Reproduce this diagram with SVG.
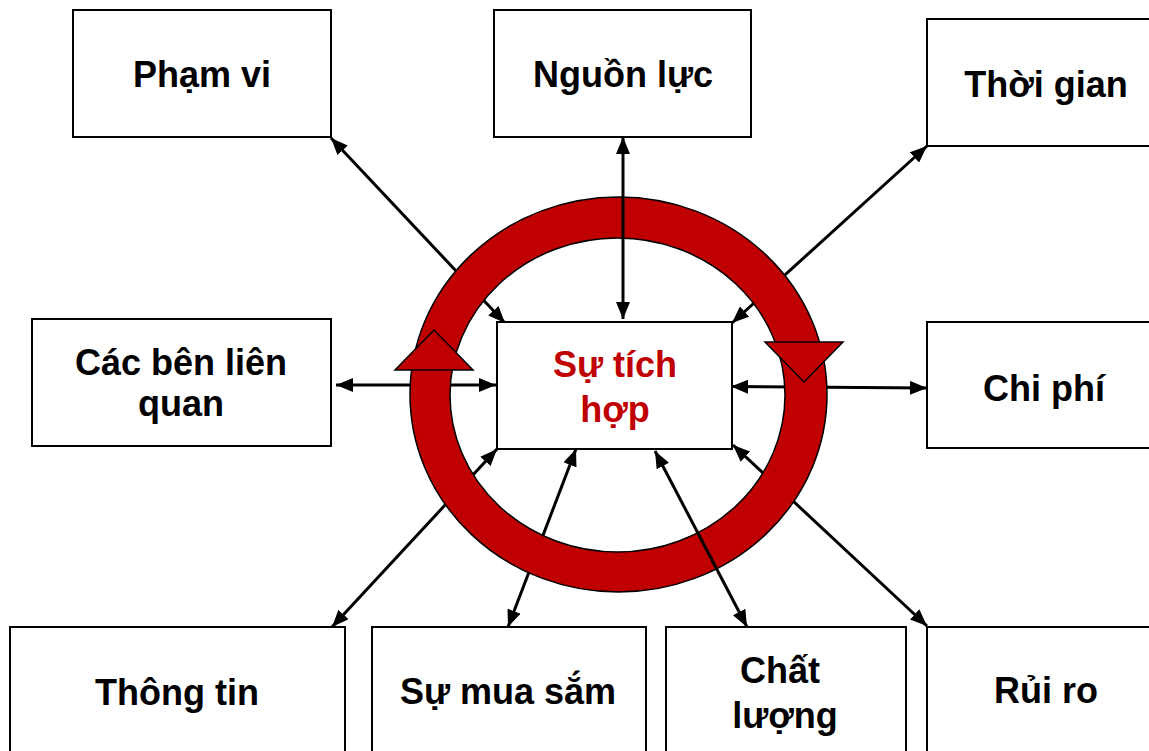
<svg xmlns="http://www.w3.org/2000/svg" width="1149" height="751" viewBox="0 0 1149 751">
<defs>
<style>
.box{fill:#fff;stroke:#000;stroke-width:2}
.lbl{font-family:"Liberation Sans",Arial,sans-serif;font-weight:bold;font-size:36px;fill:#000;text-anchor:middle}
.red{fill:#C00000}
.conn{stroke:#000;stroke-width:3;fill:none;marker-start:url(#ah);marker-end:url(#ah)}
.ring{fill:#C00000;stroke:#000;stroke-width:1.5}
</style>
<marker id="ah" markerUnits="userSpaceOnUse" markerWidth="18" markerHeight="14" viewBox="0 0 18 14" refX="17" refY="7" orient="auto-start-reverse">
<path d="M0,0 L17,7 L0,14 z" fill="#000"/>
</marker>
</defs>
<rect width="1149" height="751" fill="#fff"/>

<g id="node-pham-vi"><rect class="box" x="73" y="10" width="258" height="127"/><text class="lbl" x="202" y="87">Phạm vi</text></g>
<g id="node-nguon-luc"><rect class="box" x="494" y="10" width="257" height="127"/><text class="lbl" x="623" y="87">Nguồn lực</text></g>
<g id="node-thoi-gian"><rect class="box" x="927" y="19" width="240" height="127"/><text class="lbl" x="1046" y="97">Thời gian</text></g>
<g id="node-cac-ben"><rect class="box" x="32" y="319" width="299" height="127"/><text class="lbl" x="181" y="375">Các bên liên</text><text class="lbl" x="181" y="416">quan</text></g>
<g id="node-chi-phi"><rect class="box" x="927" y="322" width="240" height="126"/><text class="lbl" x="1044" y="401">Chi phí</text></g>
<g id="node-thong-tin"><rect class="box" x="10" y="627" width="335" height="130"/><text class="lbl" x="177" y="705">Thông tin</text></g>
<g id="node-mua-sam"><rect class="box" x="372" y="627" width="274" height="130"/><text class="lbl" x="508" y="704">Sự mua sắm</text></g>
<g id="node-chat-luong"><rect class="box" x="666" y="627" width="240" height="130"/><text class="lbl" x="780" y="683">Chất</text><text class="lbl" x="785" y="728">lượng</text></g>
<g id="node-rui-ro"><rect class="box" x="927" y="627" width="240" height="130"/><text class="lbl" x="1046" y="703">Rủi ro</text></g>

<g id="connectors">
<line class="conn" x1="331" y1="138" x2="505" y2="323"/>
<line class="conn" x1="927" y1="146" x2="732" y2="323"/>
<line class="conn" x1="336" y1="385" x2="496" y2="385"/>
<line class="conn" x1="731" y1="386.5" x2="927" y2="388"/>
<line class="conn" x1="497" y1="449" x2="332" y2="627"/>
<line class="conn" x1="576" y1="449" x2="508" y2="627"/>
<line class="conn" x1="733" y1="445" x2="927" y2="626"/>
</g>

<g id="node-ring">
<path class="ring" fill-rule="evenodd" d="M410,394.5 A208.5,197.5 0 1 0 827,394.5 A208.5,197.5 0 1 0 410,394.5 Z M450,395 A167.5,157 0 1 1 785,395 A167.5,157 0 1 1 450,395 Z"/>
<polygon class="ring" points="395,370 473,370 434,330"/>
<polygon class="ring" points="765,342 843,342 804,382"/>
</g>

<g id="node-center"><rect class="box" x="497" y="322" width="235" height="127"/><text class="lbl red" x="615" y="377">Sự tích</text><text class="lbl red" x="615" y="422">hợp</text></g>

<g id="connectors-over">
<line class="conn" x1="623" y1="137" x2="623" y2="319"/>
<line class="conn" x1="655" y1="451" x2="747" y2="627"/>
</g>
</svg>
